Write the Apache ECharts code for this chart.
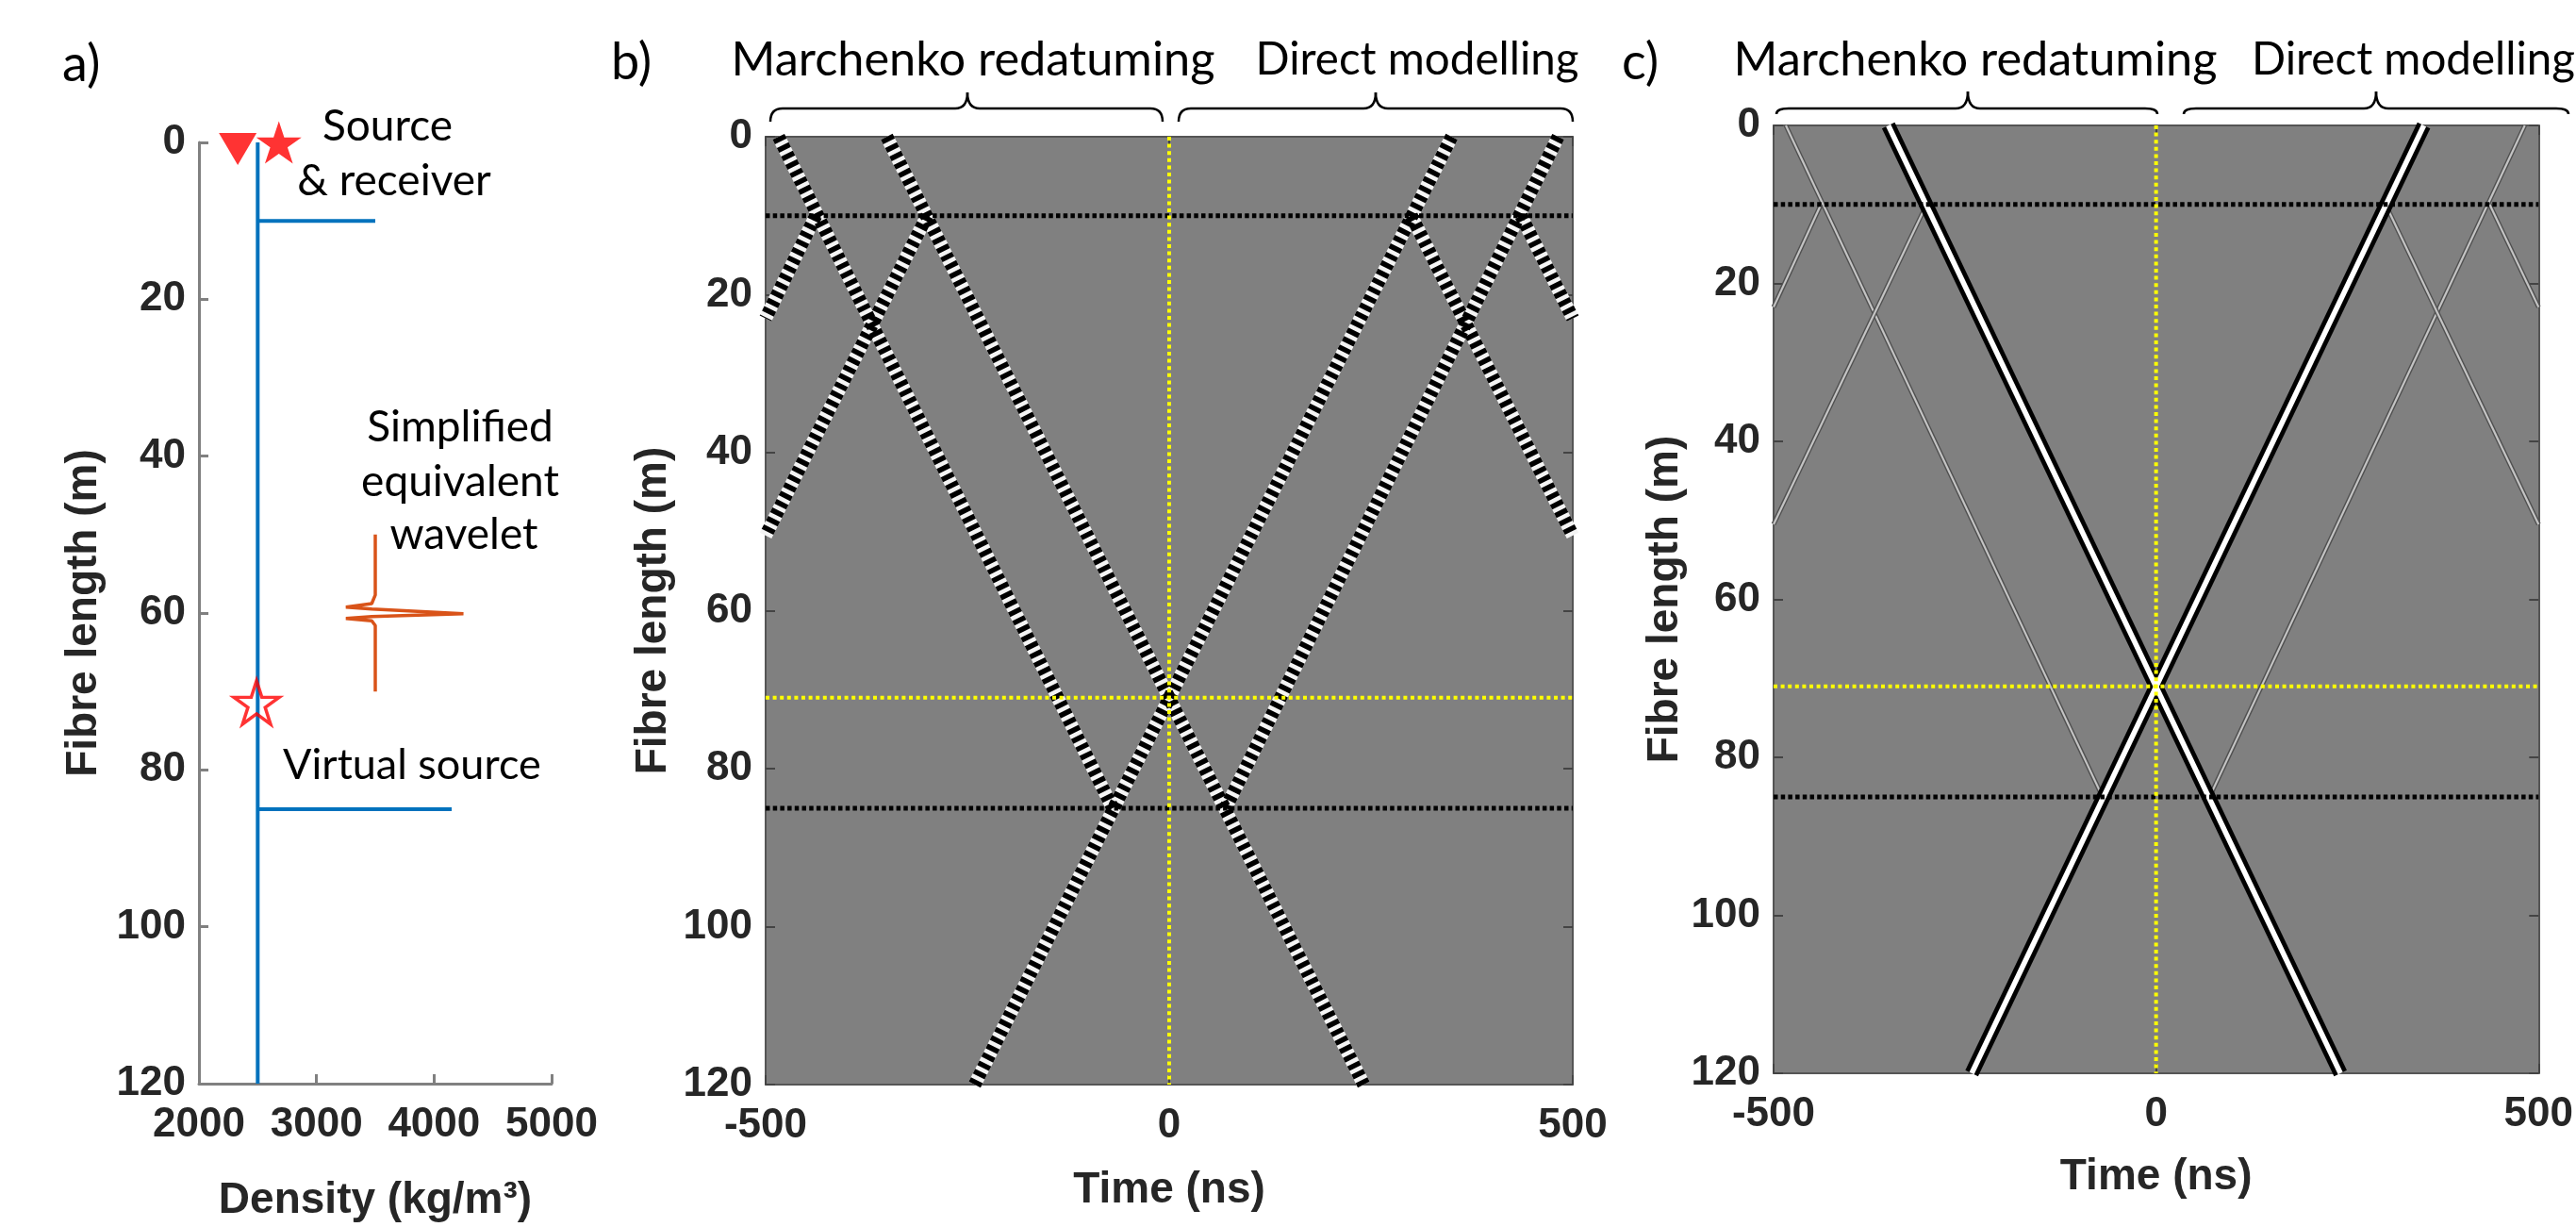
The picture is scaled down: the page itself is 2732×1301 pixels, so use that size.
<!DOCTYPE html>
<html><head><meta charset="utf-8">
<script src="https://cdn.jsdelivr.net/npm/echarts@6/dist/echarts.min.js"></script>
<style>html,body{margin:0;padding:0;background:#fff;}#chart{width:2732px;height:1301px;}</style>
</head><body><div id="chart"></div>
<script>
// ---------- Panel a: density model ----------
const densityAxis = [2000, 5000, 1000];           // min, max, interval
const depthAxis = [0, 120, 20];                   // min, max, interval
const densityProfile = [[2500,0],[2500,10],[3500,10],[2500,10],[2500,85],[4150,85],[2500,85],[2500,120]];
const waveletTrace = [[3500,50],[3500,57.7],[3470,58.8],[3250,59.25],[3470,59.5],[4250,60.1],[3470,60.45],[3250,60.7],[3470,61.0],[3500,61.6],[3500,70]];
const receiverPoint = [[2330, 0]];
const sourcePoint = [[2680, 0]];
const virtualSourcePoint = [[2490, 71.4]];

// ---------- Panels b & c: wavefields (time ns, fibre length m) ----------
const timeAxis = [-500, 500, 500];
const reflectorDepths = [10, 85];
const virtualSourceDepth = 71;
const virtualSourceTime = 0;
const directAcausal = [[-350,0],[241,120]];
const directCausal = [[350,0],[-241,120]];
const refl85Causal = [[482,0],[70,85]];
const refl85Acausal = [[-484,0],[-70,85]];
const refl10Causal = [[300,10],[500,50.5]];
const refl10Acausal = [[-300,10],[-500,50.5]];
const multipleCausal = [[436,10],[500,23]];
const multipleAcausal = [[-438,10],[-500,23]];

const mainEvents = [directAcausal, directCausal];
const weakEvents = [refl85Causal, refl85Acausal, refl10Causal, refl10Acausal, multipleCausal, multipleAcausal];

// ---------- styles ----------
const FONT = 'Liberation Sans';
const tickLabel = {fontFamily: FONT, fontWeight: 'bold', fontSize: 44, color: '#262626', formatter: v => String(v)};
const axisTitle = {fontFamily: FONT, fontWeight: 'bold', fontSize: 46, color: '#262626'};
const starPath = 'path://M100,0 L122.45,69.1 L195.11,69.1 L136.33,111.8 L158.78,180.9 L100,138.2 L41.22,180.9 L63.67,111.8 L4.89,69.1 L77.55,69.1 Z';

function valAxis(o) {
  return Object.assign({
    type: 'value', splitLine: {show: false},
    axisLine: {show: true, onZero: false, lineStyle: {color: '#555', width: 2}},
    axisTick: {show: true, inside: true, length: 10, lineStyle: {color: '#444', width: 2}},
    axisLabel: Object.assign({margin: 22}, tickLabel),
    nameTextStyle: axisTitle, nameLocation: 'middle'
  }, o);
}
function xTime(g, pos, labels, gap) {
  return valAxis({gridIndex: g, position: pos, min: timeAxis[0], max: timeAxis[1], interval: timeAxis[2],
    axisLabel: Object.assign({margin: 22, show: labels}, tickLabel),
    name: labels ? 'Time (ns)' : '', nameGap: gap});
}
function yDepth(g, pos, labels, gap) {
  return valAxis({gridIndex: g, position: pos, inverse: true, min: depthAxis[0], max: depthAxis[1], interval: depthAxis[2],
    axisLabel: Object.assign({margin: 14, show: labels}, tickLabel),
    name: labels ? 'Fibre length (m)' : '', nameGap: gap});
}

const series = [];
// panel a
series.push({type: 'line', xAxisIndex: 0, yAxisIndex: 0, data: densityProfile, showSymbol: false,
  lineStyle: {color: '#0072BD', width: 4}, z: 3});
series.push({type: 'line', xAxisIndex: 0, yAxisIndex: 0, data: waveletTrace, showSymbol: false,
  lineStyle: {color: '#D95319', width: 3.5}, z: 3});
series.push({type: 'scatter', xAxisIndex: 0, yAxisIndex: 0, data: receiverPoint, clip: false,
  symbol: 'triangle', symbolRotate: 180, symbolSize: [40, 34], symbolOffset: [0, 7], itemStyle: {color: '#ff0000'}, z: 5});
series.push({type: 'scatter', xAxisIndex: 0, yAxisIndex: 0, data: sourcePoint, clip: false,
  symbol: starPath, symbolSize: [48, 45], itemStyle: {color: '#ff0000'}, z: 5});
series.push({type: 'scatter', xAxisIndex: 0, yAxisIndex: 0, data: virtualSourcePoint, clip: false,
  symbol: starPath, symbolSize: [48, 46], itemStyle: {color: 'rgba(255,255,255,0)', borderColor: '#ff0000', borderWidth: 3.5}, z: 5});

function lineSeries(xi, yi, data, color, width, type, z) {
  return {type: 'line', xAxisIndex: xi, yAxisIndex: yi, data: data, showSymbol: false, silent: true,
    lineStyle: {color: color, width: width, type: type || 'solid', cap: 'butt'}, z: z || 2};
}
function guideLines(xi, yi) {
  reflectorDepths.forEach(d => series.push(lineSeries(xi, yi, [[timeAxis[0], d], [timeAxis[1], d]], '#000', 5, [4.5, 3.2], 6)));
  series.push(lineSeries(xi, yi, [[virtualSourceTime, depthAxis[0]], [virtualSourceTime, depthAxis[1]]], '#ffff00', 4, [4, 3.6], 7));
  series.push(lineSeries(xi, yi, [[timeAxis[0], virtualSourceDepth], [timeAxis[1], virtualSourceDepth]], '#ffff00', 4, [4, 3.6], 7));
}
// panel b: all events with oscillating black/white appearance
mainEvents.concat(weakEvents).forEach(ev => {
  series.push(lineSeries(1, 1, ev, '#f4f4f4', 14, 'solid', 3));
  series.push(lineSeries(1, 1, ev, '#000000', 14, [5.5, 4.5], 4));
});
guideLines(1, 1);
// panel c: weak reflections thin, direct events strong
weakEvents.forEach(ev => {
  series.push(lineSeries(3, 3, ev, '#505050', 5, 'solid', 3));
  series.push(lineSeries(3, 3, ev, '#c4c4c4', 2.2, 'solid', 3));
});
mainEvents.forEach(ev => {
  series.push(lineSeries(3, 3, ev, '#000000', 15, 'solid', 4));
  series.push(lineSeries(3, 3, ev, '#ffffff', 5.5, 'solid', 5));
});
guideLines(3, 3);

// ---------- braces + annotation text ----------
function brace(xl, xr, xt, yEnd, yMid, yTip) {
  const st = {stroke: '#000', lineWidth: 2.5, fill: null};
  const r = 13;
  return [
    {type: 'bezierCurve', shape: {x1: xl, y1: yEnd, cpx1: xl, cpy1: yMid, x2: xl + r, y2: yMid}, style: st},
    {type: 'line', shape: {x1: xl + r, y1: yMid, x2: xt - r, y2: yMid}, style: st},
    {type: 'bezierCurve', shape: {x1: xt - r, y1: yMid, cpx1: xt, cpy1: yMid, x2: xt, y2: yTip}, style: st},
    {type: 'bezierCurve', shape: {x1: xt, y1: yTip, cpx1: xt, cpy1: yMid, x2: xt + r, y2: yMid}, style: st},
    {type: 'line', shape: {x1: xt + r, y1: yMid, x2: xr - r, y2: yMid}, style: st},
    {type: 'bezierCurve', shape: {x1: xr - r, y1: yMid, cpx1: xr, cpy1: yMid, x2: xr, y2: yEnd}, style: st}
  ];
}
function txt(s, x, y, size, align) {
  return {type: 'text', x: x, y: y, silent: true,
    style: {text: s, font: 'normal ' + size + 'px Lato', fill: '#000', textAlign: align || 'center', textVerticalAlign: 'middle'}};
}
const graphic = [].concat(
  brace(817, 1233, 1026, 129, 115, 98),
  brace(1250, 1668, 1459, 129, 115, 98),
  brace(1884, 2288, 2087, 121, 115, 97),
  brace(2316, 2724, 2520, 121, 115, 97),
  [
    txt('a)', 66, 69, 54, 'left'),
    txt('b)', 648, 67, 54, 'left'),
    txt('c)', 1720, 67, 54, 'left'),
    txt('Marchenko redatuming', 1032, 64, 50.5),
    txt('Direct modelling', 1503, 64, 47.5),
    txt('Marchenko redatuming', 2095, 64, 50.5),
    txt('Direct modelling', 2388, 64, 47.5, 'left'),
    txt('Source', 411, 134, 46),
    txt('& receiver', 418, 192, 46),
    txt('Simplified', 488, 453, 46),
    txt('equivalent', 488, 511, 46),
    txt('wavelet', 492, 567, 46),
    txt('Virtual source', 300, 811, 45, 'left')
  ]
);

const option = {
  animation: false,
  backgroundColor: '#ffffff',
  grid: [
    {left: 211, top: 151, width: 374, height: 1009},
    {left: 812, top: 145, width: 856, height: 1005, show: true, backgroundColor: '#808080', borderWidth: 0},
    {left: 1881, top: 133, width: 850, height: 1005, show: true, backgroundColor: '#808080', borderWidth: 0}
  ],
  xAxis: [
    valAxis({gridIndex: 0, position: 'bottom', min: densityAxis[0], max: densityAxis[1], interval: densityAxis[2],
      name: 'Density (kg/m³)', nameGap: 101,
      axisLine: {show: true, onZero: false, lineStyle: {color: '#808080', width: 3}},
      axisTick: {show: true, inside: true, length: 10, lineStyle: {color: '#808080', width: 3}}}),
    xTime(1, 'bottom', true, 89),
    xTime(1, 'top', false, 0),
    xTime(2, 'bottom', true, 87),
    xTime(2, 'top', false, 0)
  ],
  yAxis: [
    valAxis({gridIndex: 0, position: 'left', inverse: true, min: depthAxis[0], max: depthAxis[1], interval: depthAxis[2],
      name: 'Fibre length (m)', nameGap: 99, axisLabel: Object.assign({margin: 14}, tickLabel),
      axisLine: {show: true, onZero: false, lineStyle: {color: '#808080', width: 3}},
      axisTick: {show: true, inside: true, length: 10, lineStyle: {color: '#808080', width: 3}}}),
    yDepth(1, 'left', true, 96),
    yDepth(1, 'right', false, 0),
    yDepth(2, 'left', true, 81),
    yDepth(2, 'right', false, 0)
  ],
  series: series,
  graphic: graphic
};
const chart = echarts.init(document.getElementById('chart'), null, {renderer: 'canvas'});
chart.setOption(option);
</script></body></html>
